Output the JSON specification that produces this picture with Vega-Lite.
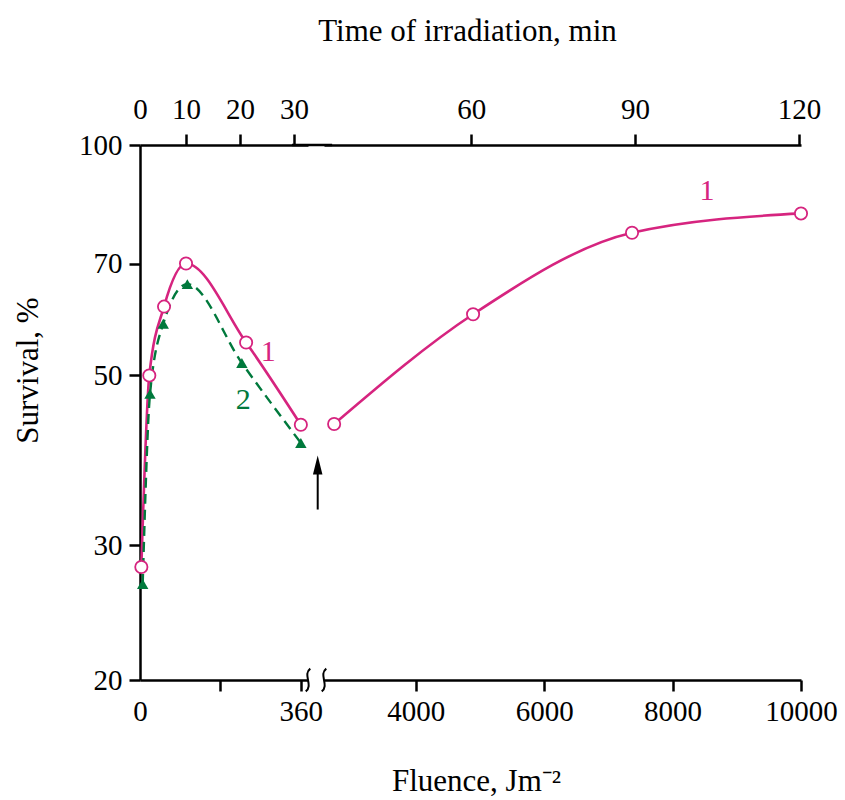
{
  "$schema": "https://vega.github.io/schema/vega-lite/v6.json",
  "background": "white",
  "padding": {"left": 12, "top": 15, "right": 0, "bottom": 0},
  "bounds": "flush",
  "config": {
    "font": "Liberation Serif",
    "view": {"stroke": null},
    "axis": {
      "domainColor": "black", "domainWidth": 2.5,
      "tickColor": "black", "tickWidth": 2.5, "tickSize": 11,
      "labelFont": "Liberation Serif", "labelFontSize": 29, "labelColor": "black",
      "titleFont": "Liberation Serif", "titleFontSize": 31, "titleColor": "black", "titleFontWeight": "normal",
      "grid": false, "labelFlush": false, "labelOverlap": false
    }
  },
  "datasets": {
    "c1L": [
      {"f": 3, "s": 28.1}, {"f": 20.8, "s": 50}, {"f": 53.8, "s": 61.5},
      {"f": 103, "s": 70}, {"f": 237.5, "s": 55.2}, {"f": 360, "s": 43.1}
    ],
    "c2L": [
      {"f": 6, "s": 26.7}, {"f": 22.4, "s": 47.3}, {"f": 52, "s": 58.4},
      {"f": 106, "s": 65.8}, {"f": 228, "s": 51.9}, {"f": 360, "s": 40.8}
    ],
    "c1R": [
      {"f": 2728, "s": 43.2}, {"f": 4892, "s": 60.1}, {"f": 7368, "s": 76.8}, {"f": 10000, "s": 81.4}
    ],
    "lab1L": [{"f": 287, "s": 53.6, "label": "1"}],
    "lab2L": [{"f": 231, "s": 46.4, "label": "2"}],
    "lab1R": [{"f": 8536, "s": 87.1, "label": "1"}],
    "timeL": [{"t": 1.48}, {"t": 10}, {"t": 20}, {"t": 30}],
    "timeR": [{"t": 60}, {"t": 90}, {"t": 120}],
    "breakL": [{"f": 376, "s": 20}],
    "breakR": [{"f": 2570, "s": 20}],
    "topGap": [{"f": 340, "f2": 430, "s": 100}],
    "arrowShaft": [{"f": 2472, "s": 33.4, "s2": 37.9}],
    "arrowHead": [{"f": 2472, "s": 38.2}]
  },
  "hconcat": [
    {
      "width": 168,
      "height": 535,
      "layer": [
        {
          "encoding": {
            "x": {
              "field": "f", "type": "quantitative",
              "scale": {"domain": [0, 376], "nice": false, "zero": false},
              "axis": {
                "values": [0, 180, 360],
                "format": "d",
                "labelExpr": "datum.value == 180 ? '' : datum.label",
                "tickOpacity": {"condition": {"test": "datum.value == 0", "value": 0}, "value": 1},
                "labelPadding": 6,
                "title": null
              }
            },
            "y": {
              "field": "s", "type": "quantitative",
              "scale": {"type": "log", "domain": [20, 100], "nice": false},
              "axis": {
                "values": [20, 30, 50, 70, 100],
                "format": "d",
                "labelPadding": 7,
                "title": "Survival, %",
                "titleX": -103, "titleY": 225,
                "titleAlign": "center", "titleBaseline": "alphabetic"
              }
            }
          },
          "layer": [
            {"data": {"name": "c1L"}, "mark": {"type": "line", "interpolate": "monotone", "color": "#d6247f", "strokeWidth": 2.6}},
            {"data": {"name": "c2L"}, "mark": {"type": "line", "interpolate": "monotone", "color": "#00793c", "strokeWidth": 2.4, "strokeDash": [10, 6]}},
            {"data": {"name": "c1L"}, "mark": {"type": "point", "shape": "circle", "filled": true, "fill": "white", "stroke": "#d6247f", "strokeWidth": 1.8, "size": 150, "opacity": 1}},
            {"data": {"name": "c2L"}, "mark": {"type": "point", "shape": "triangle-up", "filled": true, "color": "#00793c", "size": 130, "opacity": 1}},
            {"data": {"name": "lab1L"}, "mark": {"type": "text", "color": "#d6247f", "fontSize": 30, "font": "Liberation Serif"}, "encoding": {"text": {"field": "label"}}},
            {"data": {"name": "lab2L"}, "mark": {"type": "text", "color": "#00793c", "fontSize": 30, "font": "Liberation Serif"}, "encoding": {"text": {"field": "label"}}},
            {"data": {"name": "topGap"}, "mark": {"type": "rule", "color": "black", "strokeWidth": 2.5}, "encoding": {"x2": {"field": "f2"}}},
            {"data": {"name": "breakL"}, "mark": {"type": "point", "shape": "M 0.2 -1 C -0.5 -0.45, 0.5 0.45, -0.2 1", "filled": false, "stroke": "black", "strokeWidth": 2, "size": 520, "opacity": 1}}
          ]
        },
        {
          "data": {"name": "timeL"},
          "mark": {"type": "point", "opacity": 0},
          "encoding": {
            "x": {
              "field": "t", "type": "quantitative",
              "scale": {"domain": [1.48, 32.6], "nice": false, "zero": false},
              "axis": {
                "orient": "top",
                "values": [1.48, 10, 20, 30],
                "labelExpr": "datum.value < 5 ? '0' : datum.label",
                "tickOpacity": {"condition": {"test": "datum.value < 5", "value": 0}, "value": 1},
                "labelPadding": 10,
                "title": null
              }
            }
          }
        }
      ],
      "resolve": {"scale": {"x": "independent"}}
    },
    {
      "width": 477,
      "height": 535,
      "layer": [
        {
          "encoding": {
            "x": {
              "field": "f", "type": "quantitative",
              "scale": {"domain": [2570, 10000], "nice": false, "zero": false},
              "axis": {
                "values": [4000, 6000, 8000, 10000],
                "format": "d",
                "labelPadding": 6,
                "title": "Fluence, Jm⁻²",
                "titleX": 152, "titleY": 110,
                "titleAlign": "center", "titleBaseline": "alphabetic"
              }
            },
            "y": {
              "field": "s", "type": "quantitative",
              "scale": {"type": "log", "domain": [20, 100], "nice": false},
              "axis": null
            }
          },
          "layer": [
            {"data": {"name": "c1R"}, "mark": {"type": "line", "interpolate": "monotone", "color": "#d6247f", "strokeWidth": 2.6}},
            {"data": {"name": "c1R"}, "mark": {"type": "point", "shape": "circle", "filled": true, "fill": "white", "stroke": "#d6247f", "strokeWidth": 1.8, "size": 150, "opacity": 1}},
            {"data": {"name": "lab1R"}, "mark": {"type": "text", "color": "#d6247f", "fontSize": 30, "font": "Liberation Serif"}, "encoding": {"text": {"field": "label"}}},
            {"data": {"name": "breakR"}, "mark": {"type": "point", "shape": "M 0.2 -1 C -0.5 -0.45, 0.5 0.45, -0.2 1", "filled": false, "stroke": "black", "strokeWidth": 2, "size": 520, "opacity": 1}},
            {"data": {"name": "arrowShaft"}, "mark": {"type": "rule", "color": "black", "strokeWidth": 2}, "encoding": {"y2": {"field": "s2"}}},
            {"data": {"name": "arrowHead"}, "mark": {"type": "point", "shape": "M 0 -1 L 0.5 1 L -0.5 1 Z", "filled": true, "color": "black", "size": 361, "opacity": 1}}
          ]
        },
        {
          "data": {"name": "timeR"},
          "mark": {"type": "point", "opacity": 0},
          "encoding": {
            "x": {
              "field": "t", "type": "quantitative",
              "scale": {"domain": [33.04, 120.37], "nice": false, "zero": false},
              "axis": {
                "orient": "top",
                "values": [60, 90, 120],
                "labelPadding": 10,
                "title": "Time of irradiation, min",
                "titleX": 143, "titleY": -105,
                "titleAlign": "center", "titleBaseline": "alphabetic"
              }
            }
          }
        }
      ],
      "resolve": {"scale": {"x": "independent"}}
    }
  ],
  "spacing": 16
}
